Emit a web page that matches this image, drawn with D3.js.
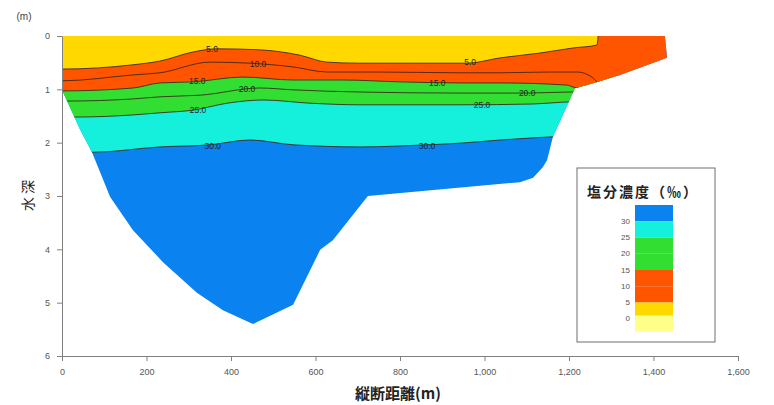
<!DOCTYPE html>
<html>
<head>
<meta charset="utf-8">
<script src="https://cdn.jsdelivr.net/npm/d3@7"></script>
<style>
  body { margin: 0; background: #fff; }
  svg { display: block; }
</style>
</head>
<body>
<svg id="chart" width="774" height="405"></svg>
<script>
// ticks
const xTickValues = [0, 200, 400, 600, 800, 1000, 1200, 1400, 1600]
const yTickValues = [0, 1, 2, 3, 4, 5, 6]

// salinity bands (thresholds and colours, low to high)
const bandThresholds = [0, 5, 10, 15, 20, 25, 30]
const bandColors = ['#ffff8c', '#ffd800', '#ff5500', '#ff5500', '#33de33', '#33de33', '#14f0dc', '#0a82f0']
const legendLevels = [30, 25, 20, 15, 10, 5, 0]

// cross section outline: [distance m, depth m]
const section = [
  [0, 0], [1427, 0], [1432, 0.41], [1321, 0.73], [1243, 0.92], [1214, 0.98],
  [1162, 1.89], [1148, 2.33], [1138, 2.46], [1115, 2.66], [1084, 2.74],
  [724, 3.0], [641, 3.83], [611, 4.01], [547, 5.04], [452, 5.40], [381, 5.14],
  [320, 4.82], [239, 4.24], [168, 3.64], [114, 3.02], [71, 2.18], [43, 1.76], [0, 1.01]
]

// iso-salinity lines: [distance m, depth m]
const contour5 = [[-60, 0.62], [0, 0.62], [168, 0.54], [232, 0.47], [310, 0.30], [367, 0.24], [469, 0.26],
  [563, 0.36], [627, 0.49], [705, 0.51], [824, 0.51], [959, 0.51], [1037, 0.41], [1131, 0.32],
  [1209, 0.225], [1266, 0.17], [1269, 0]]
const contour10 = [[-60, 0.84], [0, 0.84], [168, 0.73], [232, 0.69], [350, 0.49], [445, 0.51], [547, 0.58],
  [627, 0.675], [746, 0.675], [942, 0.69], [1037, 0.69], [1155, 0.675], [1219, 0.675], [1250, 0.75],
  [1266, 0.86], [1280, 1.05]]
const contour15 = [[-60, 1.03], [0, 1.03], [168, 0.975], [232, 0.88], [310, 0.86], [428, 0.77], [547, 0.825],
  [665, 0.825], [800, 0.86], [942, 0.88], [1037, 0.88], [1195, 0.92], [1219, 0.975], [1500, 1.0]]
const contour20 = [[-60, 1.22], [9, 1.22], [168, 1.18], [232, 1.14], [327, 1.11], [469, 0.975], [547, 1.01],
  [705, 1.05], [942, 1.07], [1101, 1.07], [1202, 1.05], [1300, 1.05]]
const contour25 = [[-60, 1.52], [31, 1.52], [168, 1.48], [232, 1.44], [310, 1.39], [391, 1.26], [476, 1.2],
  [587, 1.26], [705, 1.29], [942, 1.29], [1115, 1.275], [1186, 1.24], [1300, 1.22]]
const contour30 = [[-60, 2.18], [71, 2.18], [232, 2.08], [350, 2.04], [445, 1.95], [547, 2.04], [705, 2.08],
  [864, 2.04], [942, 2.01], [1037, 1.95], [1115, 1.91], [1162, 1.89], [1300, 1.87]]
const contourLevels = [5, 10, 15, 20, 25, 30]
const contours = [contour5, contour10, contour15, contour20, contour25, contour30]

// contour labels
const labelLevels = [5, 5, 10, 15, 15, 20, 20, 25, 25, 30, 30]
const labelDistances = [355, 966, 464, 320, 888, 438, 1101, 322, 994, 357, 864]
const labelDepths = [0.24, 0.49, 0.525, 0.84, 0.88, 0.99, 1.07, 1.39, 1.29, 2.06, 2.06]

const svg = d3.select('#chart')
const x = d3.scaleLinear().domain([0, 1600]).range([62, 738])
const y = d3.scaleLinear().domain([0, 6]).range([36, 356])
const color = d3.scaleThreshold().domain(bandThresholds).range(bandColors)

const outline = d3.line().x(d => x(d[0])).y(d => y(d[1]))
const isoLine = d3.line().x(d => x(d[0])).y(d => y(d[1])).curve(d3.curveMonotoneX)
const isoArea = d3.area().x(d => x(d[0])).y0(y(-0.4)).y1(d => y(d[1])).curve(d3.curveMonotoneX)

svg.append('clipPath').attr('id', 'section-clip')
  .append('path').attr('d', outline(section) + 'Z')

// deepest water first, then each band above its line
svg.append('path').attr('d', outline(section) + 'Z').attr('fill', color(32))

const bands = svg.append('g').attr('clip-path', 'url(#section-clip)')
contourLevels.map((lv, i) => ({ lv, pts: contours[i] })).reverse().forEach(c => {
  bands.append('path').attr('d', isoArea(c.pts)).attr('fill', color(c.lv - 1))
})
contours.forEach(pts => {
  bands.append('path').attr('d', isoLine(pts))
    .attr('fill', 'none').attr('stroke', '#3a2418').attr('stroke-width', 1).attr('stroke-opacity', 0.85)
})

const fmt = d3.format('.1f')
svg.append('g').selectAll('text').data(labelLevels).enter().append('text')
  .attr('x', (d, i) => x(labelDistances[i]))
  .attr('y', (d, i) => y(labelDepths[i]))
  .attr('text-anchor', 'middle')
  .attr('dominant-baseline', 'central')
  .style('font-family', 'Liberation Sans, Arial, sans-serif')
  .style('font-size', '8.5px')
  .style('fill', '#222')
  .text(d => fmt(d))

// axes
const yAxis = svg.append('g').attr('transform', `translate(${x(0)},0)`)
  .call(d3.axisLeft(y).tickValues(yTickValues).tickFormat(d3.format('d')).tickSize(5).tickSizeOuter(0).tickPadding(7))
const xAxis = svg.append('g').attr('transform', `translate(0,${y(6)})`)
  .call(d3.axisBottom(x).tickValues(xTickValues).tickFormat(d3.format(',')).tickSize(5).tickSizeOuter(0).tickPadding(8))
;[xAxis, yAxis].forEach(a => {
  a.selectAll('path, line').attr('stroke', '#808080')
  a.selectAll('text').style('font-family', 'Liberation Sans, Arial, sans-serif')
    .style('font-size', '9px').style('fill', '#555')
})

svg.append('text').attr('x', 24).attr('y', 20).attr('text-anchor', 'middle')
  .style('font-family', 'Liberation Sans, Arial, sans-serif').style('font-size', '10px').style('fill', '#444')
  .text('(m)')
svg.append('text').attr('transform', `translate(27,${y(3) - 2}) rotate(-90)`).attr('text-anchor', 'middle')
  .attr('dominant-baseline', 'central')
  .style('font-family', 'Noto Sans CJK JP').style('font-size', '14px').style('letter-spacing', '3px').style('fill', '#222')
  .text('水深')
svg.append('text').attr('x', 398).attr('y', 399).attr('text-anchor', 'middle')
  .style('font-family', 'Noto Sans CJK JP').style('font-size', '15px').style('font-weight', 'bold').style('fill', '#222')
  .text('縦断距離(m)')

// legend
const legend = svg.append('g')
legend.append('rect').attr('x', 577).attr('y', 168).attr('width', 138).attr('height', 174)
  .attr('fill', '#fff').attr('stroke', '#6e6e6e').attr('stroke-width', 1)
legend.append('text').attr('x', 587).attr('y', 197)
  .attr('textLength', 110)
  .style('font-family', 'Noto Sans CJK JP').style('font-size', '14px').style('font-weight', 'bold').style('fill', '#222')
  .text('塩分濃度（‰）')
const ly = d3.scaleLinear().domain([35, -5]).range([205, 335])
const legendBands = [32, 27, 22, 17, 12, 7, 2, -2]
legend.selectAll('rect.band').data(legendBands).enter().append('rect').classed('band', true)
  .attr('x', 635).attr('width', 38)
  .attr('y', d => ly(d + 3))
  .attr('height', ly(0) - ly(5))
  .attr('fill', d => color(d))
legend.selectAll('text.lv').data(legendLevels).enter().append('text').classed('lv', true)
  .attr('x', 630).attr('y', d => ly(d))
  .attr('text-anchor', 'end').attr('dominant-baseline', 'central')
  .style('font-family', 'Liberation Sans, Arial, sans-serif').style('font-size', '8px').style('fill', '#555')
  .text(d => d)
</script>
</body>
</html>
